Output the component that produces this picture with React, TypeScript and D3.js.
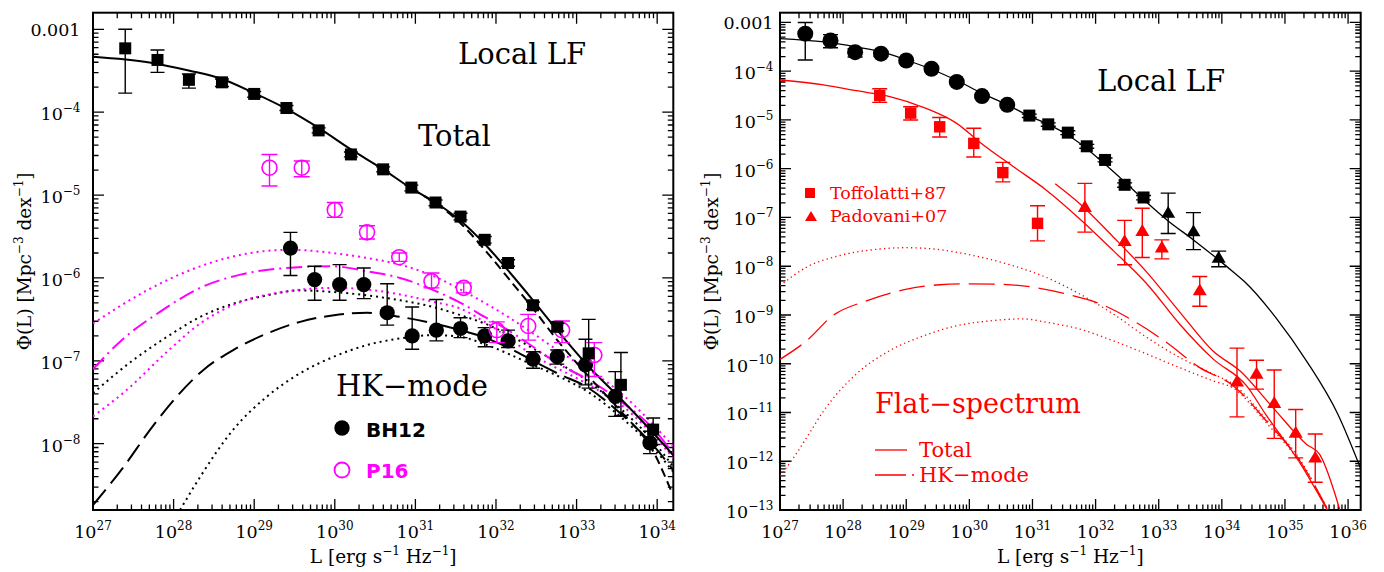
import * as d3 from 'd3';

// ---- data (log10 L [erg/s/Hz], log10 Phi [Mpc^-3 dex^-1], err low, err high) ----
const localLF: number[][] = [
  [27.4, -3.23, -3.77, -3.0],
  [27.8, -3.37, -3.52, -3.25],
  [28.19, -3.61, -3.71, -3.54],
  [28.6, -3.64, -3.69, -3.6],
  [29.0, -3.78, -3.82, -3.75],
  [29.4, -3.95, -3.98, -3.92],
  [29.8, -4.22, -4.25, -4.19],
  [30.2, -4.51, -4.54, -4.48],
  [30.6, -4.69, -4.72, -4.66],
  [30.95, -4.91, -4.95, -4.88],
  [31.25, -5.09, -5.13, -5.06],
  [31.56, -5.26, -5.3, -5.22],
  [31.86, -5.54, -5.58, -5.5],
  [32.15, -5.82, -5.86, -5.78],
  [32.46, -6.33, -6.38, -6.29],
  [32.76, -6.59, -6.64, -6.55],
  [33.15, -6.91, -7.33, -6.5],
  [33.55, -7.29, -7.66, -6.9],
  [33.95, -7.83, -8.01, -7.69],
];

const bh12: number[][] = [
  [29.45, -5.64, -5.97, -5.45],
  [29.75, -6.02, -6.27, -5.86],
  [30.06, -6.08, -6.27, -5.84],
  [30.36, -6.08, -6.25, -5.88],
  [30.65, -6.42, -6.57, -6.07],
  [30.96, -6.7, -6.86, -6.35],
  [31.26, -6.63, -6.76, -6.26],
  [31.56, -6.61, -6.72, -6.48],
  [31.86, -6.7, -6.83, -6.6],
  [32.15, -6.76, -6.84, -6.63],
  [32.46, -6.98, -7.09, -6.89],
  [32.76, -6.95, -7.04, -6.87],
  [33.11, -7.05, -7.29, -6.74],
  [33.48, -7.43, -7.67, -7.13],
  [33.91, -7.99, -8.12, -7.85],
];

const p16: number[][] = [
  [29.19, -4.67, -4.89, -4.51],
  [29.59, -4.67, -4.78, -4.59],
  [30.0, -5.18, -5.27, -5.09],
  [30.4, -5.45, -5.53, -5.37],
  [30.8, -5.75, -5.8, -5.7],
  [31.2, -6.04, -6.12, -5.94],
  [31.6, -6.12, -6.18, -6.06],
  [32.01, -6.63, -6.78, -6.53],
  [32.4, -6.58, -6.75, -6.44],
  [32.82, -6.63, -6.78, -6.52],
  [33.22, -6.93, -7.19, -6.78],
];

const toffolatti: number[][] = [
  [28.58, -4.5, -4.64, -4.36],
  [29.07, -4.86, -5.0, -4.73],
  [29.53, -5.14, -5.35, -4.95],
  [30.07, -5.48, -5.76, -5.17],
  [30.53, -6.08, -6.27, -5.87],
  [31.08, -7.12, -7.48, -6.76],
];

const padovani: number[][] = [
  [31.83, -6.79, -7.3, -6.3],
  [32.46, -7.49, -7.97, -7.06],
  [32.74, -7.28, -7.82, -6.81],
  [33.05, -7.62, -7.85, -7.46],
  [33.65, -8.5, -8.82, -8.21],
  [34.24, -10.37, -11.09, -9.68],
  [34.55, -10.21, -10.52, -9.93],
  [34.83, -10.81, -11.53, -10.13],
  [35.17, -11.42, -11.93, -10.94],
  [35.48, -11.93, -12.43, -11.44],
];

// ---- model curves [log10 L, log10 Phi] ----
const totalModel: number[][] = [
  [27.0, -3.33], [27.7, -3.4], [28.2, -3.5], [28.6, -3.6], [29.0, -3.77], [29.4, -3.96],
  [29.8, -4.19], [30.2, -4.45], [30.6, -4.69], [30.95, -4.92], [31.25, -5.09], [31.56, -5.31],
  [31.86, -5.59], [32.15, -5.91], [32.46, -6.27], [32.76, -6.63], [33.15, -7.07], [33.55, -7.46],
  [33.96, -7.88], [34.2, -8.14], [34.37, -8.33], [34.87, -9.08], [35.34, -9.94], [35.84, -11.04],
  [36.2, -12.15],
];
const totalAlt: number[][] = [
  [30.95, -4.93], [31.25, -5.1], [31.56, -5.34], [31.86, -5.66], [32.15, -6.0], [32.46, -6.37],
  [32.76, -6.75], [33.15, -7.19], [33.55, -7.61], [33.96, -8.11], [34.17, -8.56],
];
const hkBH: number[][] = [
  [27.0, -8.74], [27.38, -8.28], [27.71, -7.83], [28.04, -7.43], [28.37, -7.11], [28.74, -6.87],
  [29.16, -6.67], [29.57, -6.53], [29.99, -6.45], [30.4, -6.42], [30.81, -6.47], [31.23, -6.55],
  [31.56, -6.63], [31.86, -6.72], [32.15, -6.84], [32.46, -7.0], [32.76, -7.15], [33.15, -7.33],
  [33.55, -7.64], [33.96, -8.03], [34.2, -8.32],
];
const hkBHHigh: number[][] = [
  [27.0, -7.39], [27.5, -6.99], [27.92, -6.71], [28.33, -6.47], [28.74, -6.31], [29.16, -6.21],
  [29.57, -6.15], [29.98, -6.17], [30.4, -6.21], [30.81, -6.27], [31.22, -6.35], [31.56, -6.45],
  [31.86, -6.55], [32.46, -6.85], [32.76, -7.02], [33.15, -7.25], [33.55, -7.58], [33.96, -7.98],
  [34.2, -8.28],
];
const hkBHLow: number[][] = [
  [28.08, -8.8], [28.33, -8.4], [28.74, -7.83], [29.16, -7.43], [29.57, -7.15], [29.99, -6.95],
  [30.4, -6.81], [30.81, -6.73], [31.23, -6.69], [31.56, -6.71], [31.86, -6.8], [32.46, -7.05],
  [32.76, -7.18], [33.15, -7.38], [33.55, -7.68], [33.96, -8.06], [34.2, -8.34],
];
const hkP16: number[][] = [
  [27.0, -7.1], [27.38, -6.73], [27.83, -6.41], [28.33, -6.12], [28.83, -5.96], [29.4, -5.88],
  [29.98, -5.86], [30.4, -5.92], [30.81, -6.0], [31.23, -6.15], [31.56, -6.3], [31.86, -6.47],
  [32.15, -6.63], [32.46, -6.83], [32.76, -7.03], [33.15, -7.23], [33.55, -7.49], [33.96, -7.83],
  [34.2, -8.12],
];
const hkP16High: number[][] = [
  [27.0, -6.55], [27.67, -6.15], [28.33, -5.86], [28.95, -5.7], [29.45, -5.66], [29.98, -5.7],
  [30.4, -5.76], [30.81, -5.84], [31.23, -5.98], [31.56, -6.14], [32.15, -6.47], [32.76, -6.87],
  [33.55, -7.39], [34.2, -8.03],
];
const hkP16Low: number[][] = [
  [27.0, -7.67], [27.42, -7.35], [27.92, -6.89], [28.33, -6.55], [28.83, -6.29], [29.36, -6.17],
  [29.98, -6.12], [30.4, -6.14], [30.81, -6.2], [31.23, -6.29], [31.56, -6.37], [31.86, -6.53],
  [32.46, -6.93], [33.15, -7.29], [33.55, -7.53], [34.2, -8.17],
];
const flatToffolatti: number[][] = [
  [27.0, -4.18], [27.69, -4.28], [28.21, -4.4], [28.74, -4.52], [29.27, -4.74], [29.8, -5.07],
  [30.17, -5.46], [30.7, -5.96], [31.22, -6.44], [31.75, -7.03], [32.28, -7.68], [32.81, -8.36],
  [33.34, -9.2], [33.86, -9.9], [34.39, -10.45], [34.7, -11.05], [35.22, -12.0], [35.67, -13.0],
];
const flatPadovani: number[][] = [
  [31.36, -6.31], [31.75, -6.72], [32.28, -7.4], [32.81, -8.12], [33.34, -8.95], [33.86, -9.74],
  [34.29, -10.15], [34.81, -10.9], [35.34, -11.65], [35.55, -11.86], [35.87, -13.0],
];
const flatHK: number[][] = [
  [27.0, -9.91], [27.42, -9.53], [27.84, -9.01], [28.37, -8.71], [29.01, -8.47], [29.53, -8.38],
  [29.96, -8.36], [30.48, -8.37], [31.01, -8.43], [31.54, -8.57], [32.07, -8.77], [32.6, -9.12],
  [33.12, -9.56], [33.65, -10.08], [34.18, -10.45], [34.71, -11.18], [35.24, -12.0], [35.68, -13.0],
];
const flatHKHigh: number[][] = [
  [27.0, -8.4], [27.42, -8.02], [27.95, -7.78], [28.48, -7.66], [29.01, -7.62], [29.53, -7.66],
  [30.06, -7.78], [30.59, -7.95], [31.22, -8.23], [31.75, -8.57], [32.28, -8.98], [32.81, -9.46],
  [33.33, -9.87], [33.86, -10.21], [34.18, -10.42], [34.71, -11.15], [35.24, -11.97], [35.68, -13.0],
];
const flatHKLow: number[][] = [
  [27.0, -12.3], [27.16, -12.03], [27.42, -11.52], [27.69, -10.97], [28.21, -10.21], [28.74, -9.73],
  [29.27, -9.43], [29.8, -9.22], [30.33, -9.12], [30.85, -9.08], [31.22, -9.15], [31.75, -9.29],
  [32.28, -9.53], [32.81, -9.8], [33.33, -10.08], [33.86, -10.35], [34.18, -10.5], [34.71, -11.22],
  [35.24, -12.03], [35.68, -13.0],
];

const SERIF = '"DejaVu Serif", serif';
const SANS = '"DejaVu Sans", sans-serif';
const MAGENTA = '#ff00ff';
const RED = '#ff0000';

type Box = { left: number; right: number; top: number; bottom: number };
type Scale = d3.ScaleLogarithmic<number, number>;

const leftBox: Box = { left: 93, right: 673.3, top: 12.7, bottom: 510 };
const rightBox: Box = { left: 780, right: 1360.7, top: 12.7, bottom: 510 };

const xLeft = d3.scaleLog().domain([1e27, 10 ** 34.2]).range([leftBox.left, leftBox.right]);
const yLeft = d3.scaleLog().domain([10 ** -8.8, 10 ** -2.8]).range([leftBox.bottom, leftBox.top]);
const xRight = d3.scaleLog().domain([1e27, 10 ** 36.2]).range([rightBox.left, rightBox.right]);
const yRight = d3.scaleLog().domain([1e-13, 10 ** -2.8]).range([rightBox.bottom, rightBox.top]);

const isMajor = (v: number) => Math.abs(Math.log10(v) - Math.round(Math.log10(v))) < 1e-6;

function Frame({ x, y, box, yGap, id }: { x: Scale; y: Scale; box: Box; yGap: number; id: string }) {
  const xt = x.ticks(80);
  const yt = y.ticks(80);
  const tl = (v: number) => (isMajor(v) ? 11 : 5.5);
  let d = '';
  xt.forEach((v) => {
    const px = x(v);
    d += `M${px},${box.bottom}V${box.bottom - tl(v)}M${px},${box.top}V${box.top + tl(v)}`;
  });
  yt.forEach((v) => {
    const py = y(v);
    d += `M${box.left},${py}H${box.left + tl(v)}M${box.right},${py}H${box.right - tl(v)}`;
  });
  return (
    <g>
      <clipPath id={id}>
        <rect x={box.left} y={box.top} width={box.right - box.left} height={box.bottom - box.top} />
      </clipPath>
      <path d={d} stroke="#000" strokeWidth={1.3} fill="none" />
      <rect
        x={box.left}
        y={box.top}
        width={box.right - box.left}
        height={box.bottom - box.top}
        fill="none"
        stroke="#000"
        strokeWidth={2}
      />
      {xt.filter(isMajor).map((v) => (
        <text key={'x' + v} x={x(v)} y={box.bottom + 28} textAnchor="middle" fontSize={17.5} fontFamily={SERIF}>
          10<tspan dy={-8} fontSize={12}>{Math.round(Math.log10(v))}</tspan>
        </text>
      ))}
      {yt.filter(isMajor).map((v) => {
        const e = Math.round(Math.log10(v));
        return e === -3 ? (
          <text key={'y' + v} x={box.left - yGap} y={y(v) + 6.5} textAnchor="end" fontSize={17.5} fontFamily={SERIF}>
            0.001
          </text>
        ) : (
          <text key={'y' + v} x={box.left - yGap} y={y(v) + 8} textAnchor="end" fontSize={17.5} fontFamily={SERIF}>
            10<tspan dy={-8} fontSize={12}>{'\u2212' + Math.abs(e)}</tspan>
          </text>
        );
      })}
      <text x={(box.left + box.right) / 2} y={563} textAnchor="middle" fontSize={18.5} fontFamily={SERIF}>
        L [erg s<tspan dy={-8} fontSize={12}>{'\u22121'}</tspan>
        <tspan dy={8}> Hz</tspan>
        <tspan dy={-8} fontSize={12}>{'\u22121'}</tspan>
        <tspan dy={8}>]</tspan>
      </text>
      <text
        transform={`translate(${box.left - 62},${(box.top + box.bottom) / 2}) rotate(-90)`}
        textAnchor="middle"
        fontSize={18.5}
        fontFamily={SERIF}
      >
        Φ(L) [Mpc<tspan dy={-8} fontSize={12}>{'\u22123'}</tspan>
        <tspan dy={8}> dex</tspan>
        <tspan dy={-8} fontSize={12}>{'\u22121'}</tspan>
        <tspan dy={8}>]</tspan>
      </text>
    </g>
  );
}

function Curve({ data, x, y, color, width, dash, clip }: {
  data: number[][]; x: Scale; y: Scale; color: string; width: number; dash?: string; clip: string;
}) {
  const line = d3
    .line<number[]>()
    .x((d) => x(10 ** d[0]))
    .y((d) => y(10 ** d[1]))
    .curve(d3.curveMonotoneX);
  return (
    <path
      d={line(data) || ''}
      fill="none"
      stroke={color}
      strokeWidth={width}
      strokeDasharray={dash}
      clipPath={`url(#${clip})`}
    />
  );
}

function ErrBar({ d, x, y, color, cap }: { d: number[]; x: Scale; y: Scale; color: string; cap: number }) {
  const px = x(10 ** d[0]);
  const lo = y(10 ** d[2]);
  const hi = y(10 ** d[3]);
  return (
    <path
      d={`M${px},${lo}V${hi}M${px - cap / 2},${lo}H${px + cap / 2}M${px - cap / 2},${hi}H${px + cap / 2}`}
      stroke={color}
      strokeWidth={1.4}
      fill="none"
    />
  );
}

type Shape = 'square' | 'circle' | 'open' | 'triangle';
const markerSize: Record<Shape, number> = { square: 12, circle: 16, open: 15, triangle: 14 };

function Marker({ shape, cx, cy, color, size }: { shape: Shape; cx: number; cy: number; color: string; size: number }) {
  if (shape === 'square')
    return <rect x={cx - size / 2} y={cy - size / 2} width={size} height={size} fill={color} />;
  if (shape === 'circle') return <circle cx={cx} cy={cy} r={size / 2} fill={color} />;
  if (shape === 'open') return <circle cx={cx} cy={cy} r={size / 2} fill="none" stroke={color} strokeWidth={1.6} />;
  const h = size * 0.85;
  return <path d={`M${cx},${cy - h * 0.6}L${cx + size / 2},${cy + h * 0.4}L${cx - size / 2},${cy + h * 0.4}Z`} fill={color} />;
}

function Points({ data, x, y, color, shape, cap, shapeAt, scale = 1 }: {
  data: number[][]; x: Scale; y: Scale; color: string; shape: Shape; cap: number;
  shapeAt?: (i: number) => Shape; scale?: number;
}) {
  return (
    <g>
      {data.map((d, i) => {
        const s = shapeAt ? shapeAt(i) : shape;
        return (
          <g key={i}>
            <ErrBar d={d} x={x} y={y} color={color} cap={cap} />
            <Marker shape={s} cx={x(10 ** d[0])} cy={y(10 ** d[1])} color={color} size={markerSize[s] * scale} />
          </g>
        );
      })}
    </g>
  );
}

const bigText = { fontFamily: SERIF, fontSize: 29 };

export default function App() {
  const rightShape = (i: number): Shape => (i < 9 ? 'circle' : i < 16 ? 'square' : 'triangle');
  return (
    <div style={{ position: 'absolute', left: 0, top: 0 }}>
      <svg width={1384} height={572} style={{ display: 'block', background: '#fff' }}>
        {/* ---- left panel: HK-mode ---- */}
        <Frame x={xLeft} y={yLeft} box={leftBox} yGap={12.5} id="clipL" />
        <Curve data={hkBHHigh} x={xLeft} y={yLeft} color="#000" width={2} dash="2 4" clip="clipL" />
        <Curve data={hkBHLow} x={xLeft} y={yLeft} color="#000" width={2} dash="2 4" clip="clipL" />
        <Curve data={hkBH} x={xLeft} y={yLeft} color="#000" width={2} dash="20 8" clip="clipL" />
        <Curve data={hkP16High} x={xLeft} y={yLeft} color={MAGENTA} width={2} dash="2 4" clip="clipL" />
        <Curve data={hkP16Low} x={xLeft} y={yLeft} color={MAGENTA} width={2} dash="2 4" clip="clipL" />
        <Curve data={hkP16} x={xLeft} y={yLeft} color={MAGENTA} width={2} dash="16 5 2 5" clip="clipL" />
        <Curve data={totalModel} x={xLeft} y={yLeft} color="#000" width={2} clip="clipL" />
        <Curve data={totalAlt} x={xLeft} y={yLeft} color="#000" width={2} dash="9 5" clip="clipL" />
        <Points data={bh12} x={xLeft} y={yLeft} color="#000" shape="circle" scale={0.95} cap={14} />
        <Points data={p16} x={xLeft} y={yLeft} color={MAGENTA} shape="open" cap={16} />
        <Points data={localLF} x={xLeft} y={yLeft} color="#000" shape="square" cap={14} />

        <text x={458} y={64} {...bigText}>Local LF</text>
        <text x={418} y={146} {...bigText}>Total</text>
        <text x={336} y={396} {...bigText}>HK{'\u2212'}mode</text>
        <circle cx={342} cy={428} r={7.7} fill="#000" />
        <text x={366} y={437} fontFamily={SANS} fontWeight="bold" fontSize={20}>BH12</text>
        <circle cx={342} cy={470} r={7.5} fill="none" stroke={MAGENTA} strokeWidth={1.8} />
        <text x={366} y={478} fontFamily={SANS} fontWeight="bold" fontSize={20} fill={MAGENTA}>P16</text>

        {/* ---- right panel: flat-spectrum ---- */}
        <Frame x={xRight} y={yRight} box={rightBox} yGap={6.5} id="clipR" />
        <Curve data={flatHKHigh} x={xRight} y={yRight} color={RED} width={1.3} dash="1.3 3.2" clip="clipR" />
        <Curve data={flatHKLow} x={xRight} y={yRight} color={RED} width={1.3} dash="1.3 3.2" clip="clipR" />
        <Curve data={flatHK} x={xRight} y={yRight} color={RED} width={1.3} dash="26 9" clip="clipR" />
        <Curve data={flatToffolatti} x={xRight} y={yRight} color={RED} width={1.3} clip="clipR" />
        <Curve data={flatPadovani} x={xRight} y={yRight} color={RED} width={1.3} clip="clipR" />
        <Curve data={totalModel} x={xRight} y={yRight} color="#000" width={1.3} clip="clipR" />
        <Points data={toffolatti} x={xRight} y={yRight} color={RED} shape="square" scale={0.95} cap={15} />
        <Points data={padovani} x={xRight} y={yRight} color={RED} shape="triangle" cap={15} />
        <Points data={localLF} x={xRight} y={yRight} color="#000" shape="circle" cap={15} shapeAt={rightShape} />

        <text x={1097} y={91} {...bigText}>Local LF</text>
        <rect x={805} y={188} width={10} height={10} fill={RED} />
        <text x={830} y={199} fontFamily={SERIF} fontSize={17.5} fill={RED}>Toffolatti+87</text>
        <path d="M811,211L817,221L805,221Z" fill={RED} />
        <text x={830} y={222} fontFamily={SERIF} fontSize={17.5} fill={RED}>Padovani+07</text>
        <text x={875} y={413} fontFamily={SERIF} fontSize={27} fill={RED}>Flat{'\u2212'}spectrum</text>
        <path d="M875,450H907" stroke={RED} strokeWidth={1.3} />
        <text x={919} y={457} fontFamily={SERIF} fontSize={21} fill={RED}>Total</text>
        <path d="M875,475H906M912,475H914" stroke={RED} strokeWidth={1.3} />
        <text x={919} y={482} fontFamily={SERIF} fontSize={21} fill={RED}>HK{'\u2212'}mode</text>
      </svg>
    </div>
  );
}
